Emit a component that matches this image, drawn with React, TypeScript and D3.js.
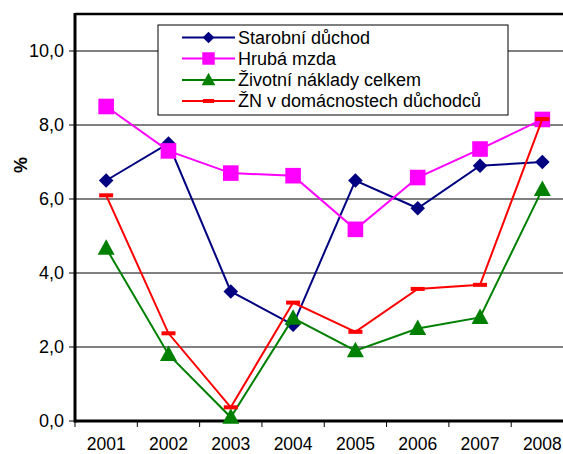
import React from "react";
import * as d3 from "d3";

const years = ["2001", "2002", "2003", "2004", "2005", "2006", "2007", "2008"];
const starobniDuchod = [6.5, 7.5, 3.5, 2.6, 6.5, 5.75, 6.9, 7.0];
const hrubaMzda = [8.5, 7.3, 6.7, 6.63, 5.18, 6.58, 7.35, 8.15];
const zivotniNaklady = [4.67, 1.8, 0.1, 2.78, 1.9, 2.5, 2.8, 6.26];
const znDuchodcu = [6.1, 2.37, 0.37, 3.2, 2.41, 3.57, 3.68, 8.16];
const yTicks = [0, 2, 4, 6, 8, 10];
const seriesNames = ["Starobní důchod", "Hrubá mzda", "Životní náklady celkem", "ŽN v domácnostech důchodců"];

const W = 563;
const H = 454;
const left = 75;
const top = 14;
const bottom = 421;
const right = 573.5;
const font = "'Liberation Sans', Arial, sans-serif";

type Marker = "diamond" | "square" | "triangle" | "dash";

const series: { name: string; values: number[]; color: string; marker: Marker }[] = [
  { name: seriesNames[0], values: starobniDuchod, color: "#000080", marker: "diamond" },
  { name: seriesNames[1], values: hrubaMzda, color: "#FF00FF", marker: "square" },
  { name: seriesNames[2], values: zivotniNaklady, color: "#008000", marker: "triangle" },
  { name: seriesNames[3], values: znDuchodcu, color: "#FF0000", marker: "dash" },
];

function MarkerShape({ type, x, y, color, k = 1 }: { type: Marker; x: number; y: number; color: string; k?: number }) {
  if (type === "diamond") {
    const s = 7.3 * k;
    return <path d={`M${x},${y - s}L${x + s},${y}L${x},${y + s}L${x - s},${y}Z`} fill={color} />;
  }
  if (type === "square") {
    const s = 7.8 * k;
    return <rect x={x - s} y={y - s} width={2 * s} height={2 * s} fill={color} />;
  }
  if (type === "triangle") {
    return (
      <path
        d={`M${x},${y - 9 * k}L${x + 8.5 * k},${y + 6.5 * k}L${x - 8.5 * k},${y + 6.5 * k}Z`}
        fill={color}
      />
    );
  }
  return <rect x={x - 7 * k} y={y - 2} width={14 * k} height={4} fill={color} />;
}

export default function App() {
  const x = d3.scaleBand<string>().domain(years).range([left, right]).padding(0);
  const y = d3.scaleLinear().domain([0, 11]).range([bottom, top]);
  const cx = (yr: string) => (x(yr) as number) + x.bandwidth() / 2;
  const line = d3
    .line<number>()
    .x((_, i) => cx(years[i]))
    .y((v) => y(v));

  const legendX = 158;
  const legendY = 25;
  const legendRowY = [37.5, 58.5, 80, 101];

  return (
    <svg
      width={W}
      height={H}
      style={{ position: "absolute", left: 0, top: 0, background: "#fff" }}
      fontFamily={font}
    >
      {yTicks.filter((t) => t > 0).map((t) => (
        <line key={t} x1={left} x2={W} y1={y(t)} y2={y(t)} stroke="#000" strokeWidth={1} />
      ))}
      <line x1={left} x2={W} y1={top} y2={top} stroke="#000" strokeWidth={2.5} />
      {yTicks.map((t) => (
        <g key={t}>
          <line x1={left - 6} x2={left} y1={y(t)} y2={y(t)} stroke="#000" strokeWidth={1} />
          <text x={64} y={y(t)} dy="0.36em" textAnchor="end" fontSize={18}>
            {d3.format(".1f")(t).replace(".", ",")}
          </text>
        </g>
      ))}
      {years.map((yr) => (
        <g key={yr}>
          <line x1={x(yr) as number} x2={x(yr) as number} y1={bottom} y2={bottom + 6} stroke="#000" strokeWidth={1} />
          <text x={cx(yr)} y={450} textAnchor="middle" fontSize={17.5}>
            {yr}
          </text>
        </g>
      ))}
      <line x1={left} x2={left} y1={top - 1} y2={bottom + 1.5} stroke="#000" strokeWidth={3} />
      <line x1={left - 1} x2={W} y1={bottom} y2={bottom} stroke="#000" strokeWidth={3} />
      <text
        transform={`translate(21,165) rotate(-90)`}
        textAnchor="middle"
        dy="0.35em"
        fontSize={18}
        fontWeight="bold"
      >
        %
      </text>
      {series.map((s) => (
        <g key={s.name}>
          <path d={line(s.values) as string} fill="none" stroke={s.color} strokeWidth={2} />
          {s.values.map((v, i) => (
            <MarkerShape key={i} type={s.marker} x={cx(years[i])} y={y(v)} color={s.color} />
          ))}
        </g>
      ))}
      <rect x={legendX} y={legendY} width={350} height={90} fill="#fff" stroke="#000" strokeWidth={1} />
      {series.map((s, i) => (
        <g key={s.name}>
          <line x1={182} x2={235} y1={legendRowY[i]} y2={legendRowY[i]} stroke={s.color} strokeWidth={2} />
          <MarkerShape type={s.marker} x={208.5} y={legendRowY[i]} color={s.color} k={0.8} />
          <text x={238} y={legendRowY[i]} dy="0.36em" fontSize={18}>
            {s.name}
          </text>
        </g>
      ))}
    </svg>
  );
}
